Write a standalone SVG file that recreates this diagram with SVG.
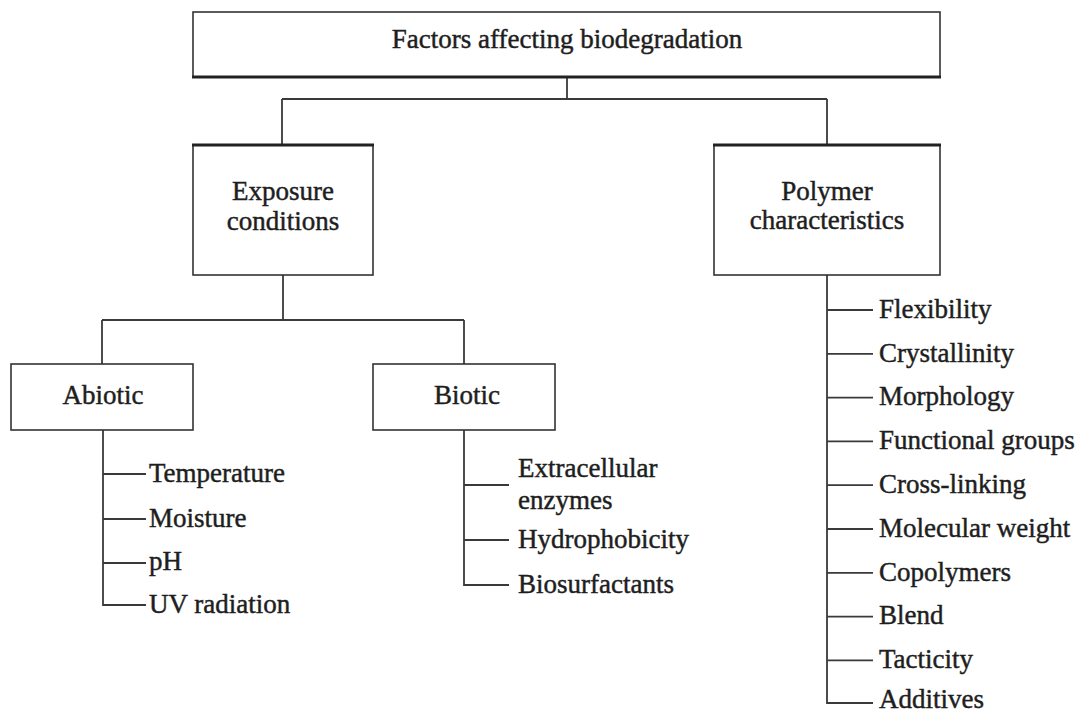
<svg xmlns="http://www.w3.org/2000/svg" width="1078" height="713" viewBox="0 0 1078 713">
<style>
.box{fill:#fff;stroke:#333;stroke-width:1.6}
.thick{stroke:#222;stroke-width:3.2;fill:none}
.conn{fill:none;stroke:#3a3a3a;stroke-width:1.8}
text{font-family:"Liberation Serif","Times New Roman",serif;font-size:27px;fill:#1e1e1e;stroke:#1e1e1e;stroke-width:0.45}
.c{text-anchor:middle}
</style>
<rect width="1078" height="713" fill="#fff"/>
<g id="connectors">
<path class="conn" d="M567 77V99M282 99H827M282 99V145M827 99V145"/>
<path class="conn" d="M283 275V320M102 320H464M102 320V364M464 320V364"/>
<path class="conn" d="M103 430V605H146M103 474H146M103 519H146M103 563H146"/>
<path class="conn" d="M464 430V585H509M464 485H509M464 540H509"/>
<path class="conn" d="M827 275V703H873M827 310H873M827 353.8H873M827 397.6H873M827 441.4H873M827 485.2H873M827 529H873M827 572.8H873M827 616.6H873M827 660.4H873"/>
</g>
<g id="node-root">
<rect class="box" x="193" y="12" width="747" height="65"/>
<line class="thick" x1="192" y1="77" x2="941" y2="77"/>
<text class="c" x="567" y="48">Factors affecting biodegradation</text>
</g>
<g id="node-exposure">
<rect class="box" x="193" y="145" width="180" height="130"/>
<line class="thick" x1="192" y1="145" x2="374" y2="145"/>
<text class="c" x="283" y="200">Exposure</text>
<text class="c" x="283" y="230">conditions</text>
</g>
<g id="node-polymer">
<rect class="box" x="714" y="145" width="226" height="130"/>
<line class="thick" x1="713" y1="145" x2="941" y2="145"/>
<text class="c" x="827" y="200">Polymer</text>
<text class="c" x="827" y="229">characteristics</text>
</g>
<g id="node-abiotic">
<rect class="box" x="11" y="364" width="182" height="66"/>
<text class="c" x="103" y="404">Abiotic</text>
</g>
<g id="node-biotic">
<rect class="box" x="373" y="364" width="182" height="66"/>
<text class="c" x="467" y="404">Biotic</text>
</g>
<g id="abiotic-items">
<text x="149" y="482">Temperature</text>
<text x="149" y="527">Moisture</text>
<text x="149" y="570">pH</text>
<text x="149" y="613">UV radiation</text>
</g>
<g id="biotic-items">
<text x="518" y="477">Extracellular</text>
<text x="518" y="509">enzymes</text>
<text x="518" y="548">Hydrophobicity</text>
<text x="518" y="593">Biosurfactants</text>
</g>
<g id="polymer-items">
<text x="879" y="318">Flexibility</text>
<text x="879" y="362">Crystallinity</text>
<text x="879" y="405">Morphology</text>
<text x="879" y="449">Functional groups</text>
<text x="879" y="493">Cross-linking</text>
<text x="879" y="537">Molecular weight</text>
<text x="879" y="581">Copolymers</text>
<text x="879" y="624">Blend</text>
<text x="879" y="668">Tacticity</text>
<text x="879" y="708">Additives</text>
</g>
</svg>
